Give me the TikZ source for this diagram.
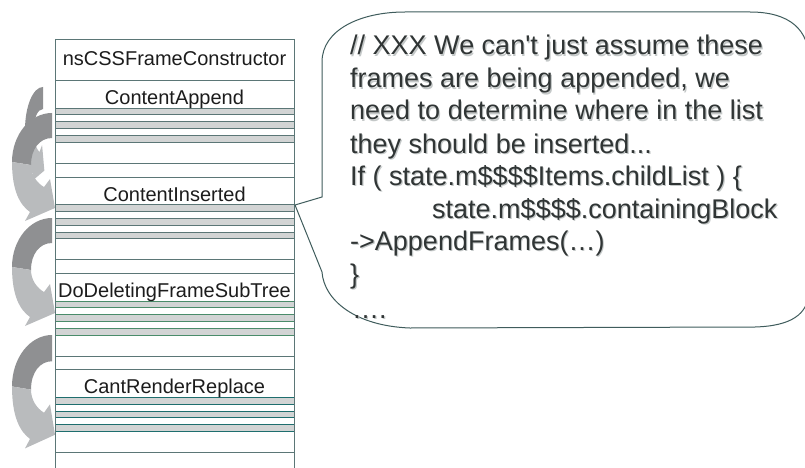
\documentclass[tikz,border=0pt]{standalone}
\usepackage{fontspec}
\setmainfont{Liberation Sans}
\newfontfamily\codefont{Liberation Sans}
\definecolor{tabline}{HTML}{5B7676}
\definecolor{bandfill}{HTML}{D2D4D4}
\definecolor{greenline}{HTML}{4A8C6A}
\definecolor{tealline}{HTML}{1E6E6E}
\definecolor{arrowdark}{HTML}{8F9092}
\definecolor{arrowlight}{HTML}{B9BBBD}
\definecolor{bubbleline}{HTML}{3F5C5C}
\definecolor{codetext}{HTML}{303535}
\definecolor{codeshadow}{HTML}{C4C8C8}
\definecolor{labeltext}{HTML}{1C1C1C}
\tikzset{
  tabrule/.style={draw=tabline, line width=0.9pt},
  label/.style={inner sep=0pt, anchor=base, text=labeltext,
    font=\fontsize{20}{24}\selectfont},
  codeline/.style={inner sep=0pt, anchor=base west, text=codetext,
    font=\codefont\fontsize{27}{32.6}\selectfont},
  codeshade/.style={codeline, text=codeshadow, xshift=1.2pt, yshift=-1.2pt},
  % curved ribbon arrow: dark back face on top, light front face ending in a head
  pics/curvarrow/.style={code={
    \fill[arrowdark] (0,0) .. controls (-22.1,0) and (-40,21.9) .. (-40,49)
      -- (-21,52) .. controls (-21,35.7) and (-12.15,25) .. (0,25) -- cycle;
    \fill[arrowlight] (-40,49) .. controls (-40,78) and (-32,92) .. (-22,99)
      -- (-27,108) -- (3,95) -- (-2,66) -- (-8,74)
      .. controls (-15,70) and (-21,62) .. (-21,52) -- cycle;
  }}
}
% one line of the comment: a soft shadow copy, then the text itself
\newcommand\codeat[4]{%
  \node[codeshade] (s#1) at (#2,#3) {#4};
  \node[codeline] (c#1) at (#2,#3) {#4};}
\begin{document}
\begin{tikzpicture}[x=1pt, y=-1pt]
\useasboundingbox (0,0) rectangle (805,468);
\clip (0,0) rectangle (805,468);

% ribbon arrows on the left of the frame list
\pic[xscale=0.45, yscale=0.88] at (43,87) {curvarrow};
\pic at (52,113) {curvarrow};
\pic at (52,218) {curvarrow};
\pic[yscale=1.05] at (52,335) {curvarrow};

% frame list: outer sides, header row
\draw[tabrule] (55,39) -- (294,39);
\draw[tabrule] (55,80.8) -- (294,80.8);
\node[label] (hdr) at (174.5,66) {nsCSSFrameConstructor};

\foreach \k/\lbl/\lc in {0/ContentAppend/tabline, 1/ContentInserted/tabline,
    2/DoDeletingFrameSubTree/greenline, 3/CantRenderReplace/tealline} {
  \pgfmathsetmacro\b{108.2+96.4*\k}
  \foreach \o in {0,13.7,27.4}
    \filldraw[fill=bandfill, draw=\lc, line width=0.9pt]
      (55,\b+\o) rectangle (294,\b+\o+6.7);
  \draw[tabrule] (55,\b+55) -- (294,\b+55);
  \ifnum\k<3
    \draw[tabrule] (55,\b+68.8) -- (294,\b+68.8);
  \fi
  \node[label] (lbl\k) at (174.5,\b-3.5) {\lbl};
}
\draw[tabrule] (55,39) -- (55,468);
\draw[tabrule] (294,39) -- (294,468);

% speech bubble pointing at ContentInserted
\coordinate (tip) at (295,205);
\draw[bubbleline, line width=1pt, fill=white]
  (322,197) -- (322,62) .. controls (322,30) and (360,12) .. (405,12)
  -- (750,12) .. controls (790,12) and (809,30) .. (809,60)
  -- (809,290) .. controls (809,315) and (790,326) .. (755,327)
  -- (410,328) .. controls (355,326) and (324,300) .. (322,272)
  -- (tip) -- cycle;

\codeat{1}{350}{55}{// XXX We can't just assume these}
\codeat{2}{350}{88}{frames are being appended, we}
\codeat{3}{350}{120}{need to determine where in the list}
\codeat{4}{350}{153}{they should be inserted...}
\codeat{5}{350}{185}{If ( state.m\$\$\$\$Items.childList ) \{}
\codeat{6}{432}{218}{state.m\$\$\$\$.containingBlock}
\codeat{7}{350}{250}{->AppendFrames(…)}
\codeat{8}{350}{283}{\}}
\codeat{9}{352}{318}{….}
\end{tikzpicture}
\end{document}
